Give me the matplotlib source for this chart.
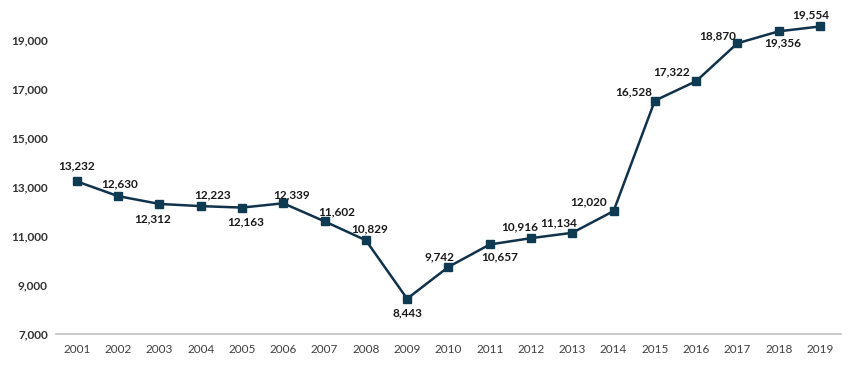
import matplotlib
matplotlib.use("Agg")
import matplotlib.pyplot as plt

years = list(range(2001, 2020))
values = [13232, 12630, 12312, 12223, 12163, 12339, 11602, 10829, 8443, 9742,
          10657, 10916, 11134, 12020, 16528, 17322, 18870, 19356, 19554]
# where each value label sits relative to its point (points offset)
label_offsets = [(0, 11), (1, 8.6), (-5, -11), (8.6, 8), (3, -10), (6, 6), (9, 7), (3, 8),
                 (0, -10), (-6.5, 7), (7, -8.6), (-8, 8), (-10, 7), (-18, 6.5), (-15, 6),
                 (-18, 7), (-14, 5), (3, -8), (-6.5, 8.6)]
yticks = [7000, 9000, 11000, 13000, 15000, 17000, 19000]

plt.rcParams['font.family'] = ['Lato', 'DejaVu Sans']
line_color = "#10324a"

fig = plt.figure(figsize=(8.64, 3.70), dpi=100)
ax = fig.add_axes([0.065, 0.097, 0.908, 0.861])

x = list(range(len(years)))
ax.plot(x, values, color=line_color, linewidth=1.8, marker="s", markersize=5.5,
        markerfacecolor="#0e3a52", markeredgecolor="#0e3a52")

for i, v in enumerate(values):
    dx, dy = label_offsets[i]
    ax.annotate(f"{v:,}", (i, v), xytext=(dx, dy), textcoords="offset points",
                ha="center", va="center", fontsize=8.5, fontweight="bold", color="#1a1a1a")

ax.set_xlim(-0.5, len(years) - 0.5)
ax.set_ylim(7000, 20000)
ax.set_xticks(x)
ax.set_xticklabels([str(y) for y in years], fontsize=8.5, color="#404040")
ax.set_yticks(yticks)
ax.set_yticklabels([f"{t:,}" for t in yticks], fontsize=8.5, fontweight="bold", color="#333333")
ax.tick_params(axis="both", length=0)
ax.tick_params(axis="x", pad=7)
ax.tick_params(axis="y", pad=6)
for s in ["top", "right", "left"]:
    ax.spines[s].set_visible(False)
ax.spines["bottom"].set_color("#bfbfbf")
ax.spines["bottom"].set_linewidth(1.2)

fig.savefig("out.png", dpi=100)
